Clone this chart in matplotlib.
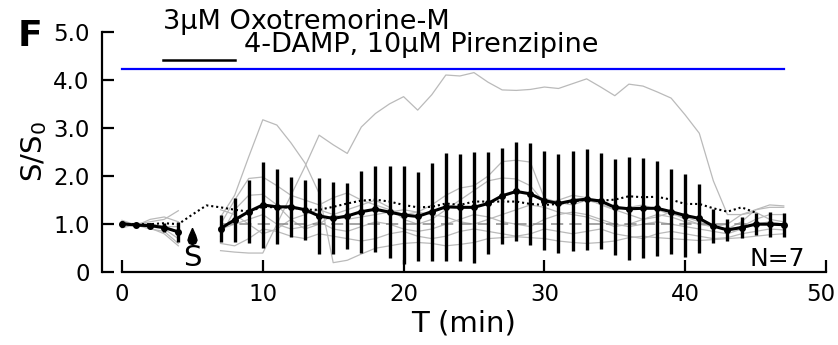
import numpy as np
import matplotlib
matplotlib.use("Agg")
import matplotlib.pyplot as plt
import matplotlib.transforms as mtransforms

# time axis (min): baseline before stimulus, recording after it
t_pre = [0, 1, 2, 3, 4]
t_post = list(range(7, 48))

# mean S/S0 and error
mean_pre = [1.01, 0.98, 0.97, 0.93, 0.84]
err_pre = [0.06, 0.03, 0.05, 0.10, 0.21]
mean_post = [0.91, 1.09, 1.26, 1.40, 1.36, 1.36, 1.30, 1.17, 1.12, 1.17,
             1.26, 1.31, 1.25, 1.19, 1.16, 1.26, 1.36, 1.35, 1.35, 1.43,
             1.59, 1.68, 1.63, 1.49, 1.43, 1.49, 1.52, 1.48, 1.35, 1.32,
             1.33, 1.33, 1.26, 1.18, 1.12, 0.96, 0.88, 0.93, 1.00, 1.00,
             0.99]
err_post = [0.29, 0.45, 0.66, 0.89, 0.78, 0.63, 0.62, 0.80, 0.75, 0.68,
            0.85, 0.89, 0.96, 1.01, 0.92, 1.02, 1.12, 1.11, 1.15, 1.06,
            1.00, 1.03, 1.06, 1.03, 1.02, 1.04, 1.05, 0.99, 1.00, 1.07,
            1.04, 0.99, 0.89, 0.87, 0.72, 0.36, 0.23, 0.22, 0.23, 0.26,
            0.25]

# control (dotted) trace
t_ctrl = list(range(0, 46))
ctrl = [1.00, 1.00, 1.00, 1.02, 1.00, 1.20, 1.39, 1.35, 1.30, 1.26,
        1.36, 1.35, 1.35, 1.30, 1.30, 1.36, 1.43, 1.49, 1.51, 1.47,
        1.40, 1.35, 1.36, 1.43, 1.40, 1.47, 1.47, 1.47, 1.47, 1.42,
        1.40, 1.42, 1.47, 1.51, 1.49, 1.51, 1.58, 1.56, 1.57, 1.51,
        1.42, 1.42, 1.33, 1.26, 1.35, 1.24]

# individual cells
cells_pre = [
    [0.95, 1.00, 1.05, 1.10, 1.28],
    [1.08, 0.98, 0.90, 0.85, 0.60],
    [1.00, 1.02, 1.00, 0.95, 0.95],
    [0.92, 1.00, 0.95, 0.90, 0.70],
    [1.05, 0.97, 1.10, 1.15, 1.05],
    [1.00, 1.00, 0.92, 0.80, 0.55],
    [1.02, 1.00, 1.00, 0.95, 0.85],
]
cells_post = [
    [0.45, 0.42, 0.40, 0.40, 1.00, 1.60, 2.20, 2.85, 2.65, 2.47,
     3.02, 3.30, 3.50, 3.65, 3.37, 3.69, 4.10, 4.08, 4.15, 3.95,
     3.79, 3.78, 3.80, 3.85, 3.82, 3.92, 4.02, 3.85, 3.67, 3.91,
     3.87, 3.75, 3.62, 3.27, 2.89, 1.90, 1.20, 1.20, 1.30, 1.35,
     1.35],
    [1.15, 1.60, 2.40, 3.17, 3.06, 2.69, 2.27, 1.64, 0.20, 0.25,
     0.38, 0.50, 0.55, 0.60, 0.62, 0.60, 0.55, 0.58, 0.62, 0.70,
     0.72, 0.74, 0.72, 0.70, 0.65, 0.62, 0.60, 0.62, 0.65, 0.72,
     0.75, 0.72, 0.70, 0.68, 0.66, 0.68, 0.70, 0.72, 0.75, 0.78,
     0.80],
    [1.00, 1.50, 1.95, 1.98, 1.80, 1.60, 1.50, 1.40, 1.55, 1.65,
     1.50, 1.40, 1.30, 1.20, 1.25, 1.40, 1.60, 1.75, 1.80, 2.00,
     2.30, 2.33, 2.29, 1.54, 1.45, 1.40, 1.50, 1.42, 1.30, 1.20,
     1.10, 1.15, 1.25, 1.10, 1.00, 0.95, 1.00, 1.20, 1.25, 1.10,
     1.05],
    [0.75, 1.30, 1.60, 1.62, 1.40, 1.10, 0.90, 1.00, 1.20, 1.30,
     1.40, 1.50, 1.35, 1.10, 1.00, 1.10, 1.30, 1.50, 1.70, 1.90,
     1.96, 1.94, 1.80, 1.45, 1.50, 1.60, 1.55, 1.40, 1.30, 1.35,
     1.40, 1.30, 1.20, 1.15, 1.05, 0.95, 0.90, 1.05, 1.30, 1.40,
     1.38],
    [0.90, 1.00, 1.10, 1.20, 1.00, 0.90, 0.95, 1.05, 0.90, 0.85,
     0.95, 1.05, 1.00, 0.90, 0.85, 0.90, 1.00, 1.10, 1.20, 1.15,
     1.05, 1.00, 0.95, 1.10, 1.20, 1.25, 1.20, 1.10, 1.00, 0.95,
     1.00, 1.05, 1.00, 0.95, 0.90, 0.85, 0.80, 0.90, 1.00, 1.05,
     1.00],
    [0.60, 0.55, 0.70, 0.90, 0.85, 0.75, 0.70, 0.80, 0.75, 0.70,
     0.65, 0.70, 0.80, 0.85, 0.75, 0.70, 0.75, 0.85, 0.90, 0.85,
     0.80, 0.75, 0.80, 0.90, 0.85, 0.80, 0.85, 0.90, 0.80, 0.75,
     0.70, 0.80, 0.85, 0.80, 0.75, 0.70, 0.72, 0.80, 0.85, 0.90,
     0.88],
    [1.30, 1.20, 1.00, 0.80, 0.90, 1.10, 1.20, 1.30, 1.20, 1.10,
     1.15, 1.20, 1.25, 1.30, 1.25, 1.20, 1.15, 1.05, 1.00, 1.10,
     1.20, 1.30, 1.40, 1.35, 1.25, 1.20, 1.15, 1.05, 0.95, 1.00,
     1.10, 1.20, 1.15, 1.05, 1.00, 0.95, 0.90, 0.95, 1.10, 1.20,
     1.20],
]

drug_span = [0, 47]
drug_level = 4.23
stim_time = 5
n_cells = 7

plt.rcParams['font.family'] = 'DejaVu Sans'

fig = plt.figure(figsize=(8.38, 3.45), dpi=100)
ax = fig.add_axes([102/838, 72.7/345, 724/838, 240.6/345])

# single cells
for c in cells_pre:
    ax.plot(t_pre, c, color='#bababa', lw=0.9, zorder=1)
for c in cells_post:
    ax.plot(t_post, c, color='#bababa', lw=0.9, zorder=1)

# baseline reference
ax.plot([7, 47], [1, 1], color='#8c8c8c', lw=1.1, ls=(0, (8, 4)), zorder=1)

# control trace
ax.plot(t_ctrl, ctrl, color='black', lw=1.5, ls=(0, (1, 1.4)), zorder=2)

# mean +- error
for t, m, e in [(t_pre, mean_pre, err_pre), (t_post, mean_post, err_post)]:
    ax.errorbar(t, m, yerr=e, fmt='-o', color='black', lw=2.2, ms=4,
                elinewidth=2.4, capsize=0, zorder=3)

# drug application bar
ax.plot(drug_span, [drug_level, drug_level], color='#0000ff', lw=1.6,
        clip_on=False)
ax.plot([2.9, 8.0], [4.42, 4.42], color='black', lw=1.8, clip_on=False)
ax.text(2.9, 5.2, '3\u03bcM Oxotremorine-M', fontsize=19.5, ha='left',
        va='center', clip_on=False)
ax.text(8.7, 4.72, '4-DAMP, 10\u03bcM Pirenzipine', fontsize=19.5,
        ha='left', va='center', clip_on=False)

# stimulus marker
drop = [(0, 1), (0.35, 0.2), (0.5, -0.3), (0.35, -0.65), (0, -0.78),
        (-0.35, -0.65), (-0.5, -0.3), (-0.35, 0.2), (0, 1)]
ax.plot([stim_time], [0.73], marker=drop, ms=13, color='black', ls='none')
ax.text(stim_time, 0.3, 'S', fontsize=21, ha='center', va='center')

ax.text(48.5, 0.28, 'N=%d' % n_cells, fontsize=18, ha='right', va='center')

ax.set_xlim(-1.42, 50)
ax.set_ylim(0, 5)
for s in ['top', 'right']:
    ax.spines[s].set_visible(False)
ax.spines['bottom'].set_bounds(0, 50)
ax.spines['left'].set_bounds(0, 5)
for s in ['bottom', 'left']:
    ax.spines[s].set_linewidth(1.6)

ax.set_xticks([0, 10, 20, 30, 40, 50])
ax.set_yticks([0, 1, 2, 3, 4, 5])
ax.set_yticklabels(['0', '1.0', '2.0', '3.0', '4.0', '5.0'])
ax.tick_params(direction='in', length=8.6, width=1.6, labelsize=16.5)
ax.tick_params(axis='x', pad=8)
ax.tick_params(axis='y', pad=9)

# keep the last x label inside the figure
last = ax.get_xticklabels()[-1]
last.set_transform(last.get_transform() +
                   mtransforms.ScaledTranslation(-5/100, 0, fig.dpi_scale_trans))

ax.set_xlabel('T (min)', fontsize=21, labelpad=2)
ax.set_ylabel('S/S$_{\\mathregular{0}}$', fontsize=21, labelpad=3)

fig.text(18/838, 1 - 36/345, 'F', fontsize=26, fontweight='bold',
         ha='left', va='center')

fig.savefig('out.png', dpi=100)
